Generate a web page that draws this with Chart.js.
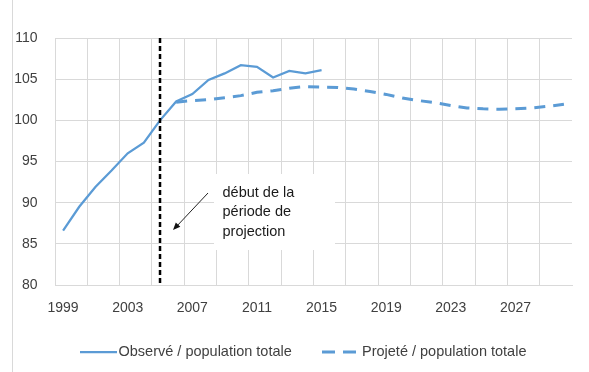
<!DOCTYPE html>
<html>
<head>
<meta charset="utf-8">
<script src="https://cdn.jsdelivr.net/npm/chart.js@4"></script>
<style>
  html, body { margin: 0; padding: 0; background: #fff; }
  #wrap { width: 589px; height: 372px; }
</style>
</head>
<body>
<div id="wrap"><canvas id="chart" width="589" height="372"></canvas></div>
<script>
const years = ['1999','2000','2001','2002','2003','2004','2005','2006','2007','2008','2009','2010','2011','2012','2013','2014','2015',
  '2016','2017','2018','2019','2020','2021','2022','2023','2024','2025','2026','2027','2028','2029','2030'];
const observed = [86.6, 89.5, 91.9, 93.9, 96.0, 97.3, 100.0, 102.3, 103.2, 104.9, 105.7, 106.7, 106.5, 105.2, 106.0, 105.7, 106.1,
  null, null, null, null, null, null, null, null, null, null, null, null, null, null, null];
const projected = [null, null, null, null, null, null, null, 102.2, 102.4, 102.5, 102.75, 103.0, 103.4, 103.6, 103.9, 104.1, 104.05,
  104.0, 103.8, 103.5, 103.15, 102.7, 102.4, 102.15, 101.8, 101.5, 101.4, 101.35, 101.4, 101.5, 101.7, 101.95];
const seriesNames = ['Observé / population totale', 'Projeté / population totale'];
const yTicks = [80, 85, 90, 95, 100, 105, 110];
const projectionStart = '2005';
const noteLines = ['début de la', 'période de', 'projection'];

const blue = '#5B9BD5';
const gridGray = '#D9D9D9';
const font = "'Liberation Sans', Arial, sans-serif";

// extra drawing: projection marker, note, legend, left frame line
const extras = {
  id: 'extras',
  afterDatasetsDraw(chart) {
    const c = chart.ctx, a = chart.chartArea;
    const xs = chart.scales.x;
    c.save();

    // left frame
    c.strokeStyle = gridGray; c.lineWidth = 1;
    c.beginPath(); c.moveTo(12.5, 0); c.lineTo(12.5, 372); c.stroke();

    // vertical dashed line at start of projection
    const px = xs.getPixelForValue(years.indexOf(projectionStart));
    c.strokeStyle = '#000'; c.lineWidth = 2.5; c.setLineDash([5, 3]);
    c.beginPath(); c.moveTo(px, a.top); c.lineTo(px, a.bottom); c.stroke();
    c.setLineDash([]);

    // white box behind the note
    c.fillStyle = '#fff';
    c.fillRect(214, 174, 121, 76);

    // note text
    c.fillStyle = '#1a1a1a';
    c.font = '14.5px ' + font;
    c.textBaseline = 'alphabetic'; c.textAlign = 'left';
    c.fillText(noteLines[0], 222.5, 196.5);
    c.fillText(noteLines[1], 222.5, 216);
    c.fillText(noteLines[2], 222.5, 235.5);

    // arrow
    c.strokeStyle = '#222'; c.lineWidth = 1;
    c.beginPath(); c.moveTo(208, 193); c.lineTo(176, 227); c.stroke();
    const ang = Math.atan2(230 - 193, 173 - 208);
    c.fillStyle = '#111';
    c.beginPath();
    c.moveTo(173, 230);
    c.lineTo(173 - 8 * Math.cos(ang - 0.4), 230 - 8 * Math.sin(ang - 0.4));
    c.lineTo(173 - 8 * Math.cos(ang + 0.4), 230 - 8 * Math.sin(ang + 0.4));
    c.closePath(); c.fill();

    // legend
    const ly = 352;
    c.strokeStyle = blue;
    c.lineWidth = 2.25;
    c.beginPath(); c.moveTo(80, ly); c.lineTo(117, ly); c.stroke();
    c.lineWidth = 3; c.setLineDash([13, 8]);
    c.beginPath(); c.moveTo(322, ly); c.lineTo(357, ly); c.stroke();
    c.setLineDash([]);
    c.fillStyle = '#404040';
    c.textBaseline = 'middle';
    c.fillText(seriesNames[0], 118.5, ly);
    c.fillText(seriesNames[1], 362, ly);

    c.restore();
  }
};

new Chart(document.getElementById('chart'), {
  type: 'line',
  data: {
    labels: years,
    datasets: [
      { label: seriesNames[0], data: observed, borderColor: blue, borderWidth: 2.25, pointRadius: 0, tension: 0, spanGaps: false },
      { label: seriesNames[1], data: projected, borderColor: blue, borderWidth: 3, borderDash: [11, 8], pointRadius: 0, tension: 0 }
    ]
  },
  options: {
    responsive: false,
    animation: false,
    devicePixelRatio: 1,
    layout: { padding: { left: 0, right: 17, top: 38, bottom: 47 } },
    plugins: { legend: { display: false }, tooltip: { enabled: false } },
    scales: {
      x: {
        offset: true,
        afterFit(s) { s.height = 40; },
        grid: {
          offset: true,
          drawTicks: false,
          color: ctx => (ctx.index % 2 === 0 ? gridGray : 'transparent'),
          lineWidth: 1
        },
        border: { display: true, color: gridGray },
        ticks: {
          autoSkip: false, maxRotation: 0, padding: 14.6,
          color: '#404040', font: { family: font, size: 14 },
          callback(v, i) { return i % 4 === 0 ? years[i] : ''; }
        }
      },
      y: {
        min: yTicks[0], max: yTicks[yTicks.length - 1],
        afterFit(s) { s.width = 55; },
        afterBuildTicks(s) { s.ticks = yTicks.map(v => ({ value: v })); },
        grid: { color: gridGray, drawTicks: false, lineWidth: 1 },
        border: { display: false },
        ticks: { padding: 17.5, color: '#404040', font: { family: font, size: 14 } }
      }
    }
  },
  plugins: [extras]
});
</script>
</body>
</html>
